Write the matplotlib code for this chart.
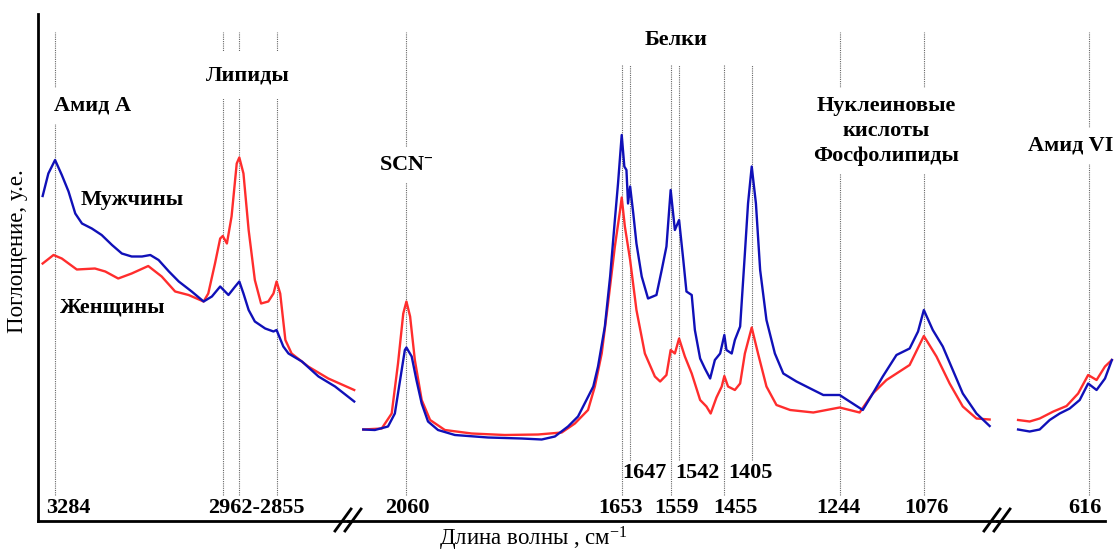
import matplotlib.pyplot as plt
from matplotlib.lines import Line2D

plt.rcParams['font.family'] = ['Liberation Serif', 'DejaVu Serif']
plt.rcParams['mathtext.default'] = 'regular'

# ---- данные (поглощение в у.е.) ----
# участок 1: 3310-2700 см-1
wn_l_m = [3308, 3297, 3284, 3271, 3258, 3245, 3232, 3213, 3194, 3174, 3155, 3136, 3116,
          3100, 3084, 3064, 3045, 3020, 2997, 2981, 2965, 2949, 2936, 2928, 2920, 2910,
          2898, 2878, 2862, 2856, 2843, 2833, 2807, 2775, 2743, 2706]
ab_l_m = [65.0, 69.5, 72.2, 69.2, 65.9, 61.5, 59.5, 58.5, 57.2, 55.2, 53.5, 52.9, 52.9,
          53.2, 52.2, 49.9, 47.9, 45.9, 43.9, 44.9, 46.9, 45.2, 46.9, 47.9, 45.5, 42.2,
          39.9, 38.5, 37.9, 38.2, 34.9, 33.5, 31.9, 28.9, 26.9, 23.9]
wn_l_w = [3308, 3287, 3271, 3242, 3207, 3187, 3162, 3136, 3104, 3078, 3052, 3026, 2997,
          2988, 2975, 2965, 2960, 2952, 2943, 2933, 2928, 2920, 2910, 2898, 2886, 2872,
          2862, 2856, 2849, 2839, 2827, 2795, 2756, 2706]
ab_l_w = [51.5, 53.2, 52.5, 50.3, 50.5, 49.9, 48.5, 49.5, 51.0, 48.9, 45.9, 45.2, 43.9,
          45.5, 51.5, 56.5, 57.0, 55.5, 60.9, 71.5, 72.7, 69.5, 58.2, 48.2, 43.5, 43.9,
          45.5, 47.9, 45.5, 36.2, 33.5, 30.9, 28.5, 26.2]

# участок 2: 2140-950 см-1
wn_c_m = [2141, 2119, 2094, 2081, 2071, 2062, 2059, 2049, 2040, 2030, 2018, 1999, 1967,
          1904, 1840, 1802, 1777, 1752, 1733, 1717, 1704, 1695, 1682, 1672, 1663, 1657,
          1650, 1645, 1641, 1638, 1634, 1628, 1622, 1612, 1600, 1584, 1574, 1565, 1557,
          1549, 1541, 1533, 1527, 1517, 1511, 1501, 1492, 1482, 1473, 1463, 1455, 1451,
          1441, 1435, 1425, 1416, 1410, 1403, 1395, 1387, 1375, 1359, 1343, 1318, 1286,
          1267, 1236, 1217, 1192, 1173, 1154, 1128, 1103, 1087, 1076, 1059, 1040, 1021,
          1002, 976, 951]
ab_c_m = [18.3, 18.2, 18.9, 21.5, 28.2, 34.2, 34.7, 32.9, 28.2, 23.5, 19.9, 18.2, 17.2,
          16.7, 16.5, 16.3, 16.9, 18.9, 20.9, 24.2, 26.9, 30.9, 38.9, 48.9, 60.2, 67.5,
          77.2, 70.9, 70.2, 63.5, 66.9, 61.5, 55.5, 48.9, 44.5, 45.2, 50.2, 54.9, 66.2,
          58.2, 60.2, 52.2, 45.9, 45.2, 38.2, 32.5, 30.5, 28.5, 32.2, 33.5, 37.2, 34.2,
          33.5, 36.2, 38.9, 53.5, 63.5, 70.9, 63.5, 50.2, 40.2, 33.5, 29.5, 27.9, 26.2,
          25.2, 25.2, 23.9, 22.2, 25.5, 28.9, 33.2, 34.5, 37.9, 42.2, 38.2, 34.9, 30.2,
          25.5, 21.5, 19.0]
wn_c_w = [2141, 2106, 2087, 2075, 2065, 2059, 2052, 2043, 2030, 2014, 1986, 1935, 1872,
          1809, 1764, 1739, 1714, 1701, 1688, 1676, 1663, 1653, 1650, 1644, 1634, 1622,
          1606, 1587, 1577, 1565, 1557, 1549, 1541, 1530, 1517, 1501, 1489, 1481, 1470,
          1460, 1455, 1448, 1435, 1425, 1416, 1403, 1391, 1375, 1356, 1330, 1286, 1236,
          1198, 1173, 1147, 1103, 1076, 1052, 1027, 1002, 976, 951]
ab_c_w = [18.3, 18.5, 21.5, 31.5, 41.5, 43.9, 40.9, 32.2, 24.2, 20.2, 18.2, 17.5, 17.2,
          17.3, 17.7, 19.5, 22.2, 26.9, 33.5, 43.5, 54.9, 62.2, 64.7, 58.9, 52.2, 42.2,
          33.5, 28.9, 27.9, 29.2, 34.2, 33.5, 36.5, 32.9, 29.5, 24.2, 22.9, 21.5, 24.7,
          26.9, 29.0, 26.9, 26.2, 27.5, 33.5, 38.7, 33.5, 26.9, 23.2, 22.2, 21.7, 22.7,
          21.7, 25.5, 28.2, 31.2, 37.0, 32.9, 27.5, 22.9, 20.5, 20.3]

# участок 3: 750-570 см-1
wn_r_m = [751, 729, 710, 691, 672, 653, 634, 618, 602, 586, 573]
ab_r_m = [18.3, 17.9, 18.3, 20.2, 21.5, 22.5, 24.2, 27.5, 26.2, 28.5, 32.2]
wn_r_w = [751, 729, 710, 684, 659, 637, 618, 602, 586, 573]
ab_r_w = [20.2, 19.9, 20.5, 21.9, 23.0, 25.5, 29.2, 28.2, 30.9, 32.2]

# положения полос (вертикальные линии) и подписи
bands_left = [3284, 2960, 2928, 2856]
bands_mid_full = [2060, 1236, 1076]
bands_prot_low = [1650, 1557, 1455]
bands_prot_up = [1634, 1541, 1403]
bands_right = [616]

col_m = '#1010b8'
col_w = '#ff2d2d'
vcol = '#666666'

fig = plt.figure(figsize=(11.18, 5.53), dpi=100)
W, H = 1118, 553
bot, hgt = (H - 521) / H, 507 / H
ax1 = fig.add_axes([38 / W, bot, 310 / W, hgt])
ax2 = fig.add_axes([348 / W, bot, 649 / W, hgt])
ax3 = fig.add_axes([997 / W, bot, 108 / W, hgt])
ax1.set_xlim(3317, 2718)
ax2.set_xlim(2170, 937)
ax3.set_xlim(791, 586)

segs = [(ax1, wn_l_m, ab_l_m, wn_l_w, ab_l_w),
        (ax2, wn_c_m, ab_c_m, wn_c_w, ab_c_w),
        (ax3, wn_r_m, ab_r_m, wn_r_w, ab_r_w)]
for ax, xm, ym, xw, yw in segs:
    ax.set_facecolor('none')
    ax.set_ylim(0, 101.4)
    ax.plot(xw, yw, color=col_w, lw=1.7, clip_on=False, zorder=2)
    ax.plot(xm, ym, color=col_m, lw=1.7, clip_on=False, zorder=2)
    ax.set_xticks([])
    ax.set_yticks([])
    for s in ['top', 'right', 'left']:
        ax.spines[s].set_visible(False)
    ax.spines['bottom'].set_linewidth(2)
ax1.spines['left'].set_visible(True)
ax1.spines['left'].set_linewidth(2)

vl = dict(colors=vcol, linestyles=(0, (1, 1)), lw=0.8, zorder=1)
ax1.vlines(bands_left, 5.2, 97.8, **vl)
ax2.vlines(bands_mid_full, 5.2, 97.8, **vl)
ax2.vlines(bands_prot_low, 5.2, 91.2, **vl)
ax2.vlines(bands_prot_up, 12.2, 91.2, **vl)
ax3.vlines(bands_right, 5.2, 97.8, **vl)

# подписи
bold = dict(fontsize=16, fontweight='bold', ha='center', va='center', zorder=3)
box = dict(fc='white', ec='none', pad=6)
ax1.text(3212, 83, 'Амид А', bbox=box, **bold)
ax1.text(2911, 89.2, 'Липиды', bbox=dict(fc='white', ec='none', pad=10), **bold)
ax1.text(3135, 64.2, 'Мужчины', **bold)
ax1.text(3172, 42.8, 'Женщины', **bold)
ax1.text(3259, 2.6, '3284', **bold)
ax1.text(2896, 2.6, '2962-2855', **bold)

ax2.text(2060, 71.2, 'SCN$^{-}$', bbox=box, **bold)
ax2.text(1547, 96.2, 'Белки', **bold)
ax2.text(1148, 78, 'Нуклеиновые\nкислоты\nФосфолипиды', linespacing=1.3,
         bbox=box, **bold)
for x, t in zip([2058, 1653, 1545, 1433, 1239, 1072],
                ['2060', '1653', '1559', '1455', '1244', '1076']):
    ax2.text(x, 2.6, t, **bold)
for x, t in zip([1606, 1507, 1405], ['1647', '1542', '1405']):
    ax2.text(x, 9.6, t, **bold)

ax3.text(651, 75, 'Амид VI', bbox=box, **bold)
ax3.text(624, 2.6, '616', **bold)

fig.text(18 / W, 1 - 251 / H, 'Поглощение, у.е.', rotation=90, fontsize=16.5,
         ha='center', va='center')
fig.text(533 / W, 0, 'Длина волны , см$^{-1}$', fontsize=16.5,
         ha='center', va='bottom')

# разрывы оси
for bx in (348, 997):
    for dx in (-5, 5):
        fig.add_artist(Line2D([(bx + dx - 8) / W, (bx + dx + 8) / W],
                              [1 - 531 / H, 1 - 509 / H], color='k', lw=2))

fig.savefig('out.png', dpi=100)
